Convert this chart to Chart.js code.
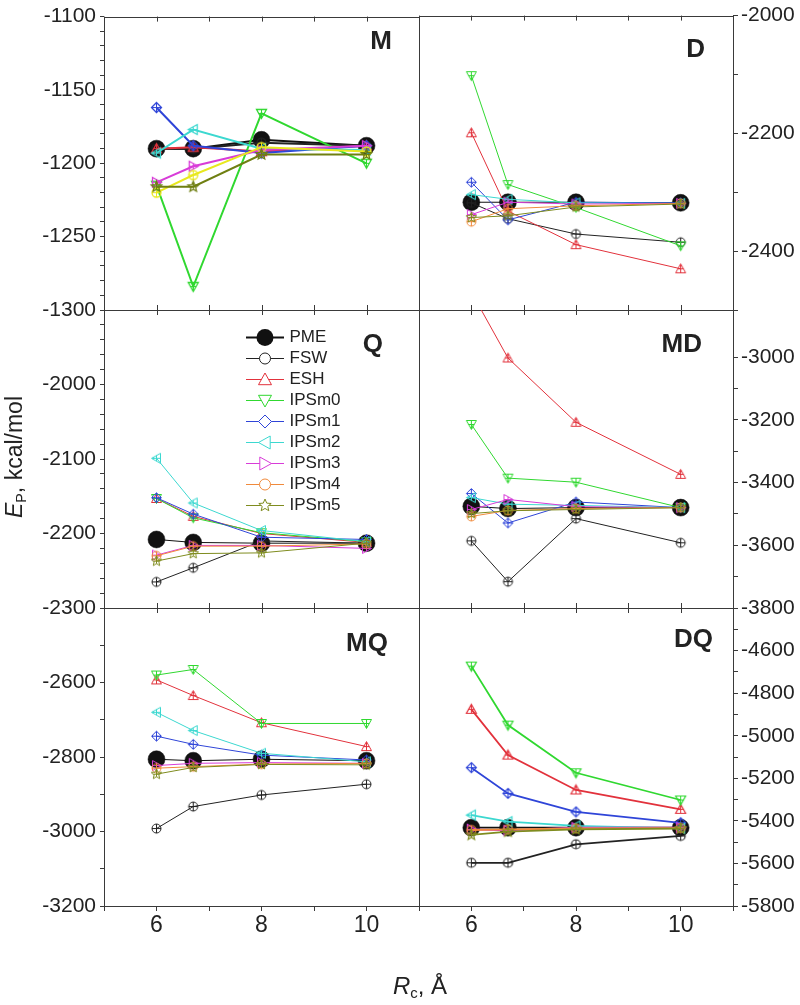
<!DOCTYPE html>
<html>
<head>
<meta charset="utf-8">
<script src="https://cdn.jsdelivr.net/npm/chart.js@4.4.1/dist/chart.umd.min.js"></script>
<style>
  html, body { margin: 0; padding: 0; background: #fff; }
  #wrap { position: relative; width: 800px; height: 1005px; overflow: hidden;
          font-family: "Liberation Sans", Arial, sans-serif; color: #222; }
  canvas.panel { position: absolute; left: 0; top: 0; pointer-events: none; }
  #cLegend { position: absolute; left: 245px; top: 325px; pointer-events: none; }
  .lab { position: absolute; font-weight: bold; font-size: 26px; line-height: 26px; white-space: nowrap; }
  #ytitle { position: absolute; left: -86px; top: 444px; width: 200px; height: 26px; line-height: 26px;
            font-size: 23px; text-align: center; transform: rotate(-90deg); white-space: nowrap; }
  #xtitle { position: absolute; left: 320px; top: 972px; width: 200px; line-height: 28px;
            font-size: 24px; text-align: center; white-space: nowrap; }
  sub { font-size: 0.62em; vertical-align: -0.3em; line-height: 0; }
</style>
</head>
<body>
<div id="wrap">
  <canvas id="cM" class="panel" width="800" height="1005"></canvas>
  <canvas id="cD" class="panel" width="800" height="1005"></canvas>
  <canvas id="cQ" class="panel" width="800" height="1005"></canvas>
  <canvas id="cMD" class="panel" width="800" height="1005"></canvas>
  <canvas id="cMQ" class="panel" width="800" height="1005"></canvas>
  <canvas id="cDQ" class="panel" width="800" height="1005"></canvas>
  <canvas id="cLegend" width="115" height="400"></canvas>
  <div class="lab" style="right:408px; top:27px">M</div>
  <div class="lab" style="right:95px; top:35px">D</div>
  <div class="lab" style="right:417px; top:330px">Q</div>
  <div class="lab" style="right:98px; top:330px">MD</div>
  <div class="lab" style="right:412px; top:629px">MQ</div>
  <div class="lab" style="right:87px; top:625px">DQ</div>
  <div id="ytitle"><i>E</i><sub>P</sub>, kcal/mol</div>
  <div id="xtitle"><i>R</i><sub>c</sub>, Å</div>
</div>
<script>
'use strict';

// cutoff radii (x values) and series
const rc = [6, 6.7, 8, 10];
const seriesNames = ['PME', 'FSW', 'ESH', 'IPSm0', 'IPSm1', 'IPSm2', 'IPSm3', 'IPSm4', 'IPSm5'];
const seriesColors = ['#111111', '#222222', '#e2323c', '#30d830', '#2f45d8', '#3cd8d0', '#d83cd8', '#f08a3c', '#7f8c1f'];
const seriesShapes = ['disc', 'circle', 'triUp', 'triDown', 'diamond', 'triLeft', 'triRight', 'circle', 'star'];

// values per panel, rows in the order of seriesNames
const valM = [
  [-1190, -1190, -1184, -1188],
  [-1190, -1190, -1186, -1188],
  [-1190, -1189, -1192, -1188],
  [-1215, -1284, -1166, -1200],
  [-1162, -1188, -1193, -1188],
  [-1193, -1177, -1190, -1191],
  [-1213, -1202, -1191, -1188],
  [-1220, -1208, -1189, -1192],
  [-1216, -1216, -1194, -1194]
];
const valD = [
  [-2317, -2317, -2317, -2318],
  [-2318, -2345, -2371, -2385],
  [-2199, -2332, -2389, -2430],
  [-2102, -2287, -2326, -2391],
  [-2283, -2347, -2317, -2318],
  [-2304, -2312, -2318, -2319],
  [-2338, -2317, -2320, -2319],
  [-2350, -2328, -2323, -2319],
  [-2343, -2340, -2325, -2320]
];
const valQ = [
  [-2208, -2212, -2213, -2213],
  [-2265, -2246, -2210, -2213],
  [-2153, -2177, -2200, -2212],
  [-2153, -2179, -2199, -2211],
  [-2152, -2174, -2205, -2208],
  [-2099, -2159, -2196, -2211],
  [-2229, -2216, -2216, -2220],
  [-2230, -2217, -2217, -2214],
  [-2237, -2227, -2226, -2213]
];
const valMD = [
  [-3476, -3483, -3480, -3480],
  [-3586, -3716, -3515, -3592],
  [-2793, -3003, -3208, -3374],
  [-3215, -3386, -3399, -3480],
  [-3435, -3529, -3462, -3480],
  [-3448, -3469, -3473, -3480],
  [-3486, -3454, -3477, -3480],
  [-3508, -3489, -3483, -3480],
  [-3499, -3490, -3486, -3480]
];
const valMQ = [
  [-2806, -2810, -2806, -2810],
  [-2992, -2933, -2902, -2873],
  [-2593, -2635, -2708, -2772],
  [-2580, -2565, -2710, -2710],
  [-2744, -2766, -2795, -2808],
  [-2680, -2729, -2790, -2813],
  [-2823, -2817, -2815, -2817],
  [-2830, -2826, -2819, -2817],
  [-2846, -2828, -2820, -2821]
];
const valDQ = [
  [-5432, -5432, -5432, -5432],
  [-5597, -5597, -5510, -5471],
  [-4876, -5091, -5255, -5346],
  [-4673, -4950, -5174, -5302],
  [-5150, -5271, -5358, -5409],
  [-5373, -5404, -5424, -5435],
  [-5440, -5445, -5432, -5432],
  [-5443, -5440, -5436, -5434],
  [-5466, -5451, -5440, -5436]
];

// axes: ranges and labelled ticks
const xRange = [5, 11];
const xTickLabels = [6, 8, 10];
const yRangeM = [-1300, -1100],  yLabelsM = [-1300, -1250, -1200, -1150, -1100];
const yRangeQ = [-2300, -1900],  yLabelsQ = [-2300, -2200, -2100, -2000];
const yRangeMQ = [-3200, -2400], yLabelsMQ = [-3200, -3000, -2800, -2600];
const yRangeD = [-2500, -2000],  yLabelsD = [-2400, -2200, -2000];
const yRangeMD = [-3800, -2850], yLabelsMD = [-3800, -3600, -3400, -3200, -3000];
const yRangeDQ = [-5800, -4400], yLabelsDQ = [-5800, -5600, -5400, -5200, -5000, -4800, -4600];

////////////////////////////////////////////////////
// marker pictures (open symbols with a cross inside, like the original)
function shapePath(ctx, shape, r) {
  ctx.beginPath();
  if (shape === 'circle' || shape === 'disc') {
    ctx.arc(0, 0, r, 0, Math.PI * 2);
  } else if (shape === 'triUp') {
    ctx.moveTo(0, -r); ctx.lineTo(r, r * 0.8); ctx.lineTo(-r, r * 0.8); ctx.closePath();
  } else if (shape === 'triDown') {
    ctx.moveTo(0, r); ctx.lineTo(r, -r * 0.8); ctx.lineTo(-r, -r * 0.8); ctx.closePath();
  } else if (shape === 'triLeft') {
    ctx.moveTo(-r, 0); ctx.lineTo(r * 0.8, -r); ctx.lineTo(r * 0.8, r); ctx.closePath();
  } else if (shape === 'triRight') {
    ctx.moveTo(r, 0); ctx.lineTo(-r * 0.8, -r); ctx.lineTo(-r * 0.8, r); ctx.closePath();
  } else if (shape === 'diamond') {
    ctx.moveTo(0, -r); ctx.lineTo(r, 0); ctx.lineTo(0, r); ctx.lineTo(-r, 0); ctx.closePath();
  } else if (shape === 'star') {
    for (let i = 0; i < 10; i++) {
      const a = -Math.PI / 2 + i * Math.PI / 5;
      const rr = i % 2 ? r * 0.45 : r;
      if (i === 0) ctx.moveTo(rr * Math.cos(a), rr * Math.sin(a));
      else ctx.lineTo(rr * Math.cos(a), rr * Math.sin(a));
    }
    ctx.closePath();
  }
}

function makeMarker(shape, color, r, lw, cross, lineLen, fill) {
  const c = document.createElement('canvas');
  const h = Math.ceil(r * 2 + 4) | 1;
  const w = lineLen ? lineLen : h;
  c.width = w; c.height = h;
  const ctx = c.getContext('2d');
  ctx.strokeStyle = color;
  if (lineLen) {
    ctx.lineWidth = shape === 'disc' ? 2 : 1;
    ctx.beginPath(); ctx.moveTo(0, h / 2); ctx.lineTo(w, h / 2); ctx.stroke();
  }
  ctx.translate(w / 2, h / 2);
  ctx.lineWidth = lw;
  shapePath(ctx, shape, r);
  if (shape === 'disc') {
    ctx.fillStyle = color; ctx.fill();
    return c;
  }
  if (fill) { ctx.fillStyle = fill; ctx.fill(); }
  ctx.stroke();
  if (cross) {
    ctx.save();
    shapePath(ctx, shape, r);
    ctx.clip();
    ctx.lineWidth = 1;
    ctx.beginPath();
    ctx.moveTo(0, -r); ctx.lineTo(0, r);
    ctx.moveTo(-r, 0); ctx.lineTo(r, 0);
    ctx.stroke();
    ctx.restore();
  }
  return c;
}

function markerSize(shape) {
  if (shape === 'circle') return 4.5;
  if (shape === 'star') return 5.5;
  return 5;
}

////////////////////////////////////////////////////
// frame of each panel + inward ticks on its top (and bottom) edge
const framePlugin = {
  id: 'frame',
  beforeDatasetsDraw(chart, args, opts) {
    const ctx = chart.ctx;
    const a = chart.chartArea;
    const xs = chart.scales.x;
    ctx.save();
    ctx.strokeStyle = '#3a3a3a';
    ctx.lineWidth = 1;
    ctx.strokeRect(Math.round(a.left) + 0.5, Math.round(a.top) + 0.5,
      Math.round(a.right - a.left), Math.round(a.bottom - a.top));
    ctx.beginPath();
    xs.ticks.forEach(t => {
      const px = Math.round(xs.getPixelForValue(t.value)) + 0.5;
      ctx.moveTo(px, a.top); ctx.lineTo(px, a.top + 5);
      if (opts.bottomIn) { ctx.moveTo(px, a.bottom); ctx.lineTo(px, a.bottom - 5); }
    });
    ctx.stroke();
    ctx.restore();
  }
};

function yAxis(range, step, labels, side) {
  return {
    type: 'linear', position: side, min: range[0], max: range[1],
    afterBuildTicks: s => {
      s.ticks = s.ticks.filter(t => Math.abs(Math.round(t.value / step) * step - t.value) < 1e-6);
    },
    afterFit: s => { s.width = side === 'left' ? 104 : 67; },
    grid: { drawOnChartArea: false, drawTicks: true, tickLength: side === 'left' ? 4 : 5, color: '#3a3a3a' },
    border: { display: false },
    ticks: {
      stepSize: step, autoSkip: false, padding: side === 'left' ? 4 : 3, color: '#222',
      font: { family: 'Liberation Sans', size: 21 },
      callback: v => labels.includes(Math.round(v)) ? String(Math.round(v)) : ''
    }
  };
}

function xAxis(bottomRow) {
  return {
    type: 'linear', position: 'bottom', min: xRange[0], max: xRange[1],
    afterFit: s => { s.height = bottomRow ? 40 : 0; },
    grid: { display: bottomRow, drawOnChartArea: false, drawTicks: true, tickLength: 5, color: '#3a3a3a' },
    border: { display: false },
    ticks: {
      display: bottomRow, stepSize: 1, autoSkip: false, padding: 1, maxRotation: 0, color: '#222',
      font: { family: 'Liberation Sans', size: 23 },
      callback: v => xTickLabels.includes(v) ? String(v) : ''
    }
  };
}

const rows = [[10, 310], [310, 608], [608, 906]];

function panel(id, vals, yRange, step, yLabels, side, row, lw, mlw, colorFix) {
  const bottomRow = row === 2;
  const pad = {
    left: side === 'left' ? 0 : 419,
    right: side === 'left' ? 381 : 0,
    top: rows[row][0],
    bottom: 1005 - rows[row][1] - (bottomRow ? 40 : 0)
  };
  const datasets = vals.map((arr, i) => {
    const color = (colorFix && colorFix[i]) || seriesColors[i];
    const shape = seriesShapes[i];
    const isPME = i === 0;
    return {
      label: seriesNames[i],
      data: arr.map((v, j) => ({ x: rc[j], y: v })),
      borderColor: color,
      backgroundColor: color,
      borderWidth: lw,
      tension: 0,
      fill: false,
      order: 9 - i,
      pointStyle: isPME ? 'circle' : makeMarker(shape, color, markerSize(shape), mlw, true),
      pointRadius: isPME ? 8.5 : 5,
      pointBorderWidth: isPME ? 0.5 : 1,
      pointBackgroundColor: color,
      pointBorderColor: color
    };
  });
  new Chart(document.getElementById(id), {
    type: 'line',
    data: { datasets: datasets },
    options: {
      responsive: false,
      animation: false,
      events: [],
      layout: { padding: pad, autoPadding: false },
      scales: { x: xAxis(bottomRow), y: yAxis(yRange, step, yLabels, side) },
      plugins: { legend: { display: false }, tooltip: { enabled: false }, frame: { bottomIn: !bottomRow } }
    },
    plugins: [framePlugin]
  });
}

// MAIN
panel('cM', valM, yRangeM, 10, yLabelsM, 'left', 0, 2, 1.3, { 7: '#e8e81e', 8: '#6f7f12' });
panel('cD', valD, yRangeD, 100, yLabelsD, 'right', 0, 1, 1, null);
panel('cQ', valQ, yRangeQ, 20, yLabelsQ, 'left', 1, 1, 1, null);
panel('cMD', valMD, yRangeMD, 100, yLabelsMD, 'right', 1, 1, 1, null);
panel('cMQ', valMQ, yRangeMQ, 100, yLabelsMQ, 'left', 2, 1, 1, null);
panel('cDQ', valDQ, yRangeDQ, 100, yLabelsDQ, 'right', 2, 1.8, 1.2, null);

// legend (drawn by Chart.js in its own small canvas)
const legendIcons = seriesNames.map((n, i) => {
  const shape = seriesShapes[i];
  const r = shape === 'disc' ? 8.5 : (shape === 'circle' ? 5.5 : 6.5);
  return makeMarker(shape, seriesColors[i], r, 1, false, 38, '#ffffff');
});
new Chart(document.getElementById('cLegend'), {
  type: 'line',
  data: { datasets: seriesNames.map(n => ({ label: n, data: [] })) },
  options: {
    responsive: false,
    animation: false,
    events: [],
    layout: { padding: 0 },
    scales: { x: { display: false }, y: { display: false } },
    plugins: {
      tooltip: { enabled: false },
      legend: {
        position: 'top',
        align: 'start',
        labels: {
          usePointStyle: true,
          pointStyleWidth: 32,
          padding: 4,
          color: '#222',
          font: { family: 'Liberation Sans', size: 17 },
          generateLabels: () => seriesNames.map((n, i) => ({
            text: n, pointStyle: legendIcons[i], datasetIndex: i, hidden: false,
            lineWidth: 0, strokeStyle: 'rgba(0,0,0,0)', fillStyle: 'rgba(0,0,0,0)', fontColor: '#222'
          }))
        }
      }
    }
  }
});
</script>
</body>
</html>
